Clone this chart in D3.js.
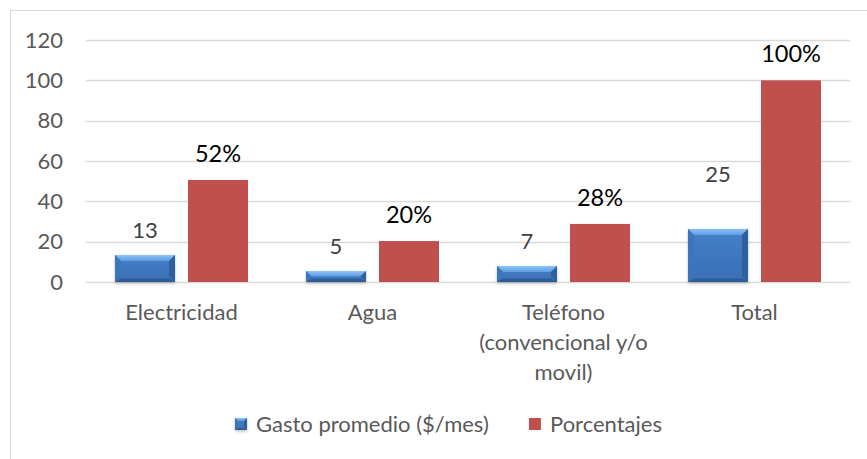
<!DOCTYPE html>
<html>
<head>
<meta charset="utf-8">
<script src="https://cdn.jsdelivr.net/npm/d3@7"></script>
<style>
  body { margin: 0; background: #fff; }
  svg { display: block; font-family: Lato, "Open Sans", sans-serif; }
</style>
</head>
<body>
<svg id="chart" width="867" height="459"></svg>
<script>
// categories and series
const categories = ['Electricidad', 'Agua', 'Teléfono\n(convencional y/o\nmovil)', 'Total'];
const gastoValues = [13.4, 5.4, 7.9, 26.3];
const gastoLabels = ['13', '5', '7', '25'];
const pctValues = [50.6, 20.3, 28.8, 100];
const pctLabels = ['52%', '20%', '28%', '100%'];
const yTicks = [0, 20, 40, 60, 80, 100, 120];
const seriesNames = ['Gasto promedio ($/mes)', 'Porcentajes'];

const width = 867, height = 459;
const margin = { top: 40, right: 17, bottom: 177, left: 86 };

const svg = d3.select('#chart');

// outer frame (only left/top show inside the window)
svg.append('rect')
    .attr('x', 10.5).attr('y', 10.5)
    .attr('width', 880).attr('height', 480)
    .attr('fill', 'none')
    .attr('stroke', '#d9d9d9');

const x = d3.scaleBand()
    .domain(categories)
    .range([margin.left, width - margin.right]);

const xInner = d3.scaleBand()
    .domain(['gasto', 'pct'])
    .range([29, x.bandwidth() - 29])
    .paddingInner(0.178);

const y = d3.scaleLinear()
    .domain([0, 120])
    .range([height - margin.bottom, margin.top]);

// gridlines
svg.append('g')
    .selectAll('line')
    .data(yTicks)
    .join('line')
    .attr('x1', margin.left)
    .attr('x2', width - margin.right)
    .attr('y1', d => Math.round(y(d)) + 0.5)
    .attr('y2', d => Math.round(y(d)) + 0.5)
    .attr('stroke', '#d9d9d9')
    .attr('stroke-width', 1.3);

// y axis labels
const yAxis = d3.axisLeft(y).tickValues(yTicks).tickSize(0).tickPadding(23);
svg.append('g')
    .attr('transform', 'translate(' + margin.left + ',0)')
    .call(yAxis)
    .call(g => g.select('.domain').remove())
    .selectAll('text')
    .attr('font-family', 'Lato, sans-serif')
    .attr('font-size', 22)
    .attr('fill', '#595959');

// gradients for the bevelled blue bars
const defs = svg.append('defs');
const face = defs.append('linearGradient').attr('id', 'blueFace')
    .attr('x1', 0).attr('y1', 0).attr('x2', 0).attr('y2', 1);
face.append('stop').attr('offset', '0%').attr('stop-color', '#4580ca');
face.append('stop').attr('offset', '100%').attr('stop-color', '#3a6fb4');

const topBevel = defs.append('linearGradient').attr('id', 'blueTop')
    .attr('x1', 0).attr('y1', 0).attr('x2', 0).attr('y2', 1);
topBevel.append('stop').attr('offset', '0%').attr('stop-color', '#8cc2f7');
topBevel.append('stop').attr('offset', '100%').attr('stop-color', '#5f9ce0');

const shadow = defs.append('filter').attr('id', 'barShadow')
    .attr('x', '-20%').attr('y', '-20%').attr('width', '140%').attr('height', '150%');
shadow.append('feDropShadow')
    .attr('dx', 0).attr('dy', 1.5).attr('stdDeviation', 1.5)
    .attr('flood-color', '#000').attr('flood-opacity', 0.25);

function drawBevelBar(g, x0, y0, w, h, size) {
    const b = Math.min(size, h / 2, w / 2);
    const bar = g.append('g').attr('filter', 'url(#barShadow)');
    bar.append('rect')
        .attr('x', x0).attr('y', y0).attr('width', w).attr('height', h)
        .attr('fill', 'url(#blueFace)');
    // top bevel
    bar.append('path')
        .attr('d', `M${x0},${y0}H${x0 + w}L${x0 + w - b},${y0 + b}H${x0 + b}Z`)
        .attr('fill', 'url(#blueTop)');
    // left bevel
    bar.append('path')
        .attr('d', `M${x0},${y0}L${x0 + b},${y0 + b}V${y0 + h - b}L${x0},${y0 + h}Z`)
        .attr('fill', '#3d74ba');
    // right bevel
    bar.append('path')
        .attr('d', `M${x0 + w},${y0}L${x0 + w - b},${y0 + b}V${y0 + h - b}L${x0 + w},${y0 + h}Z`)
        .attr('fill', '#2f5f9f');
    // bottom bevel
    bar.append('path')
        .attr('d', `M${x0},${y0 + h}L${x0 + b},${y0 + h - b * 0.6}H${x0 + w - b}L${x0 + w},${y0 + h}Z`)
        .attr('fill', '#2d5b97');
}

const bars = svg.append('g');
categories.forEach((c, i) => {
    const bx = x(c) + xInner('gasto');
    const by = y(gastoValues[i]);
    drawBevelBar(bars, bx, by, xInner.bandwidth(), y(0) - by, 6);
});

bars.selectAll('rect.pct')
    .data(pctValues)
    .join('rect')
    .attr('class', 'pct')
    .attr('x', (d, i) => x(categories[i]) + xInner('pct'))
    .attr('y', d => y(d))
    .attr('width', xInner.bandwidth())
    .attr('height', d => y(0) - y(d))
    .attr('fill', '#c0504d');

// data labels
svg.append('g')
    .selectAll('text')
    .data(gastoValues)
    .join('text')
    .attr('x', (d, i) => x(categories[i]) + xInner('gasto') + xInner.bandwidth() / 2)
    .attr('y', (d, i) => y(d) - (i === 3 ? 47 : 17))
    .attr('text-anchor', 'middle')
    .attr('font-size', 22)
    .attr('fill', '#404040')
    .text((d, i) => gastoLabels[i]);

svg.append('g')
    .selectAll('text')
    .data(pctValues)
    .join('text')
    .attr('x', (d, i) => x(categories[i]) + xInner('pct') + xInner.bandwidth() / 2)
    .attr('y', d => y(d) - 18)
    .attr('text-anchor', 'middle')
    .attr('font-size', 23.5)
    .attr('fill', '#000')
    .text((d, i) => pctLabels[i]);

// category labels
const catG = svg.append('g');
categories.forEach(c => {
    const t = catG.append('text')
        .attr('x', x(c) + x.bandwidth() / 2)
        .attr('y', 320)
        .attr('text-anchor', 'middle')
        .attr('font-size', 22)
        .attr('fill', '#595959');
    c.split('\n').forEach((line, j) => {
        t.append('tspan')
            .attr('x', x(c) + x.bandwidth() / 2)
            .attr('dy', j === 0 ? 0 : 30)
            .text(line);
    });
});

// legend
const legend = svg.append('g');
const legendX = [235, 529];
seriesNames.forEach((name, i) => {
    if (i === 0) {
        drawBevelBar(legend, legendX[i], 418, 12, 12, 3);
    } else {
        legend.append('rect')
            .attr('x', legendX[i]).attr('y', 418)
            .attr('width', 12).attr('height', 12)
            .attr('fill', '#c0504d');
    }
    legend.append('text')
        .attr('x', legendX[i] + 21)
        .attr('y', 432)
        .attr('font-size', 22)
        .attr('fill', '#595959')
        .text(name);
});
</script>
</body>
</html>
